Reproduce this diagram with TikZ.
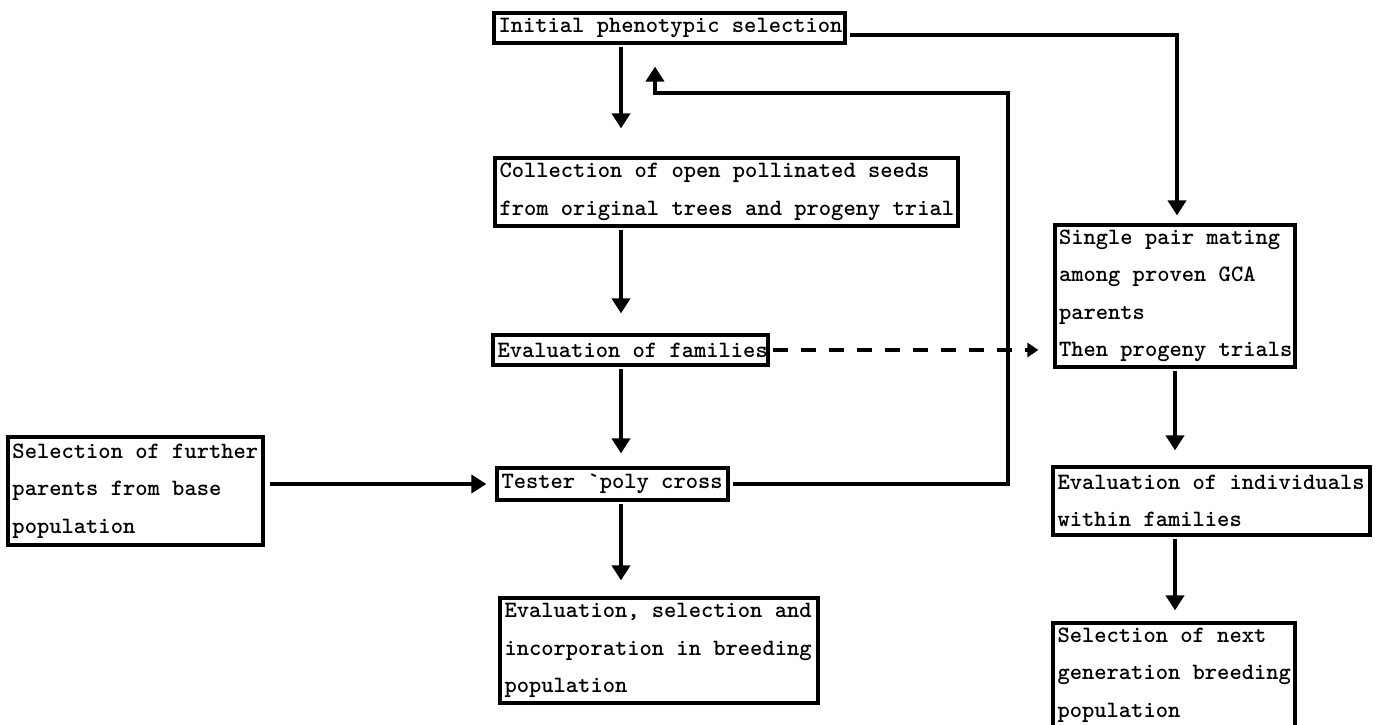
\documentclass[tikz,border=0pt]{standalone}
\usepackage{fontspec}
\usetikzlibrary{arrows.meta}
\tikzset{
  box/.style={draw, line width=3.2pt, inner xsep=4pt, inner ysep=0pt, align=left,
    font=\ttfamily\bfseries\fontsize{23.4}{37.5}\selectfont,
    execute at begin node={\spaceskip=12.3pt\relax\xspaceskip=12.3pt\relax}},
  arr/.style={line width=4.5pt, -{Triangle[width=18pt,length=15pt]}},
  dsh/.style={line width=4.5pt, dash pattern=on 15pt off 13pt, -{Triangle[width=14pt,length=11pt]}},
}
\newcommand{\nb}[1]{\mbox{#1}}
\begin{document}
\begin{tikzpicture}[x=1pt,y=-1pt]
\useasboundingbox (0,0) rectangle (1379,724);
% nodes
\node[box, minimum width=351, minimum height=30, text width=342] (init) at (669.5,28)
  {\nb{Initial phenotypic selection}};
\node[box, minimum width=463, minimum height=68, text width=454] (coll) at (726.5,192)
  {\nb{Collection of open pollinated seeds}\\\nb{from original trees and progeny trial}};
\node[box, minimum width=275, minimum height=30, text width=266] (evf) at (630.5,350)
  {\nb{Evaluation of families}};
\node[box, minimum width=231, minimum height=32, text width=222] (tester) at (612.5,484)
  {\nb{Tester `poly cross}};
\node[box, minimum width=255, minimum height=108, text width=246] (selfur) at (135.5,491)
  {\nb{Selection of further}\\\nb{parents from base}\\\nb{population}};
\node[box, minimum width=318, minimum height=105, text width=309] (evsel) at (659,650.5)
  {\nb{Evaluation, selection and}\\\nb{incorporation in breeding}\\\nb{population}};
\node[box, minimum width=240, minimum height=142, text width=232] (single) at (1175,296)
  {\nb{Single pair mating}\\\nb{among proven GCA}\\\nb{parents}\\\nb{Then progeny trials}};
\node[box, minimum width=317, minimum height=68, text width=308] (evind) at (1211.5,501)
  {\nb{Evaluation of individuals}\\\nb{within families}};
\node[box, minimum width=242, minimum height=104, text width=233] (selnext) at (1174,675)
  {\nb{Selection of next}\\\nb{generation breeding}\\\nb{population}};
% helper coordinates
\coordinate (cx) at (621,0);
\coordinate (up) at (655,0);
\coordinate (fb) at (1008,93);
\coordinate (rx) at (1177,0);
\coordinate (rx2) at (1175,0);
% connectors
\draw[arr, shorten <=2pt, shorten >=28pt] (init.south -| cx) -- (coll.north -| cx);
\draw[arr, shorten <=2pt, shorten >=20pt] (coll.south -| cx) -- (evf.north -| cx);
\draw[arr, shorten <=2pt, shorten >=13pt] (evf.south -| cx) -- (tester.north -| cx);
\draw[arr, shorten <=2pt, shorten >=16pt] (tester.south -| cx) -- (evsel.north -| cx);
\draw[arr, shorten <=5pt, shorten >=9pt] (selfur.east |- tester.west) -- (tester.west);
\draw[arr, shorten <=3pt, shorten >=22pt] (tester.east) -| (fb) -| (init.south -| up);
\draw[arr, shorten <=3pt, shorten >=8pt] ([yshift=-7pt]init.east) -| (single.north -| rx);
\draw[arr, shorten <=2pt, shorten >=15pt] (single.south -| rx2) -- (evind.north -| rx2);
\draw[arr, shorten <=2pt, shorten >=11pt] (evind.south -| rx2) -- (selnext.north -| rx2);
\draw[dsh, shorten <=3pt, shorten >=15pt] (evf.east) -- (single.west |- evf.east);
\end{tikzpicture}
\end{document}
